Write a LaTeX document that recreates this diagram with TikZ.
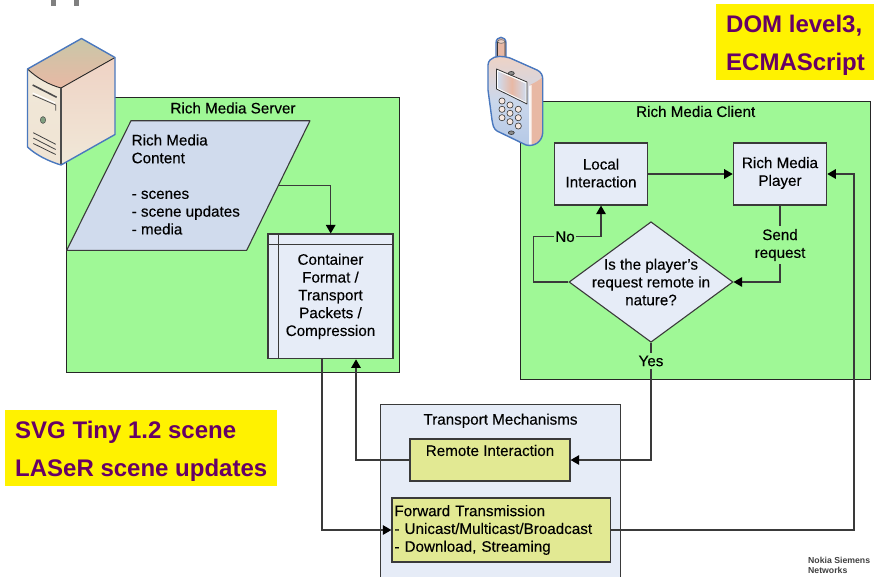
\documentclass[tikz,border=0pt]{standalone}
\usepackage{fontspec}
\setmainfont[FakeBold=0.22]{Liberation Sans}
\newfontfamily\notefont[BoldFont={Liberation Sans Bold}]{Liberation Sans}
\usetikzlibrary{arrows.meta,shapes.geometric}
\definecolor{grn}{HTML}{9FF896}
\definecolor{pale}{HTML}{E6ECF7}
\definecolor{para}{HTML}{D0DBED}
\definecolor{olive}{HTML}{E2E993}
\definecolor{purp}{HTML}{660066}
\definecolor{edge}{HTML}{3A3A3A}
\definecolor{iconblue}{HTML}{4A78BE}
\definecolor{salmon}{HTML}{E8B8A4}
\definecolor{tanc}{HTML}{C9C7A8}
\definecolor{cream}{HTML}{F0E8D8}
\definecolor{blush}{HTML}{EFD2C4}
\definecolor{steel}{HTML}{B4C8E6}
\tikzset{
  every node/.style={font=\fontsize{15.2}{17.8}\selectfont,text=black,inner sep=0pt},
  panel/.style={draw=black!85,line width=0.9pt,rectangle,inner sep=0pt},
  pbox/.style={draw=edge,line width=1.2pt,fill=pale,rectangle,align=center},
  obox/.style={draw=edge,line width=1.2pt,fill=olive,rectangle},
  caption/.style={align=center},
  yellowbox/.style={fill=yellow,rectangle},
  note/.style={font=\notefont\fontsize{24}{38}\selectfont\bfseries,text=purp,align=left},
  wire/.style={draw=edge,line width=1.3pt,-{Triangle[length=8.5pt,width=9.5pt,color=black]}},
  wlabel/.style={fill=grn,align=center,inner xsep=1pt,inner ysep=3pt},
  iconline/.style={draw=iconblue,line width=1.4pt,line join=round},
  key/.style={circle,draw=black!80,line width=0.6pt,fill=blush!50!white,minimum size=6.2pt},
}
\begin{document}
\begin{tikzpicture}[x=1pt,y=-1pt]
\useasboundingbox (0,0) rectangle (874,576);
% title remnants
\fill[black!50] (50.5,0) rectangle (56,6);
\fill[black!50] (73.5,0) rectangle (79,6);
% panels
\node[panel,fill=grn,minimum width=333pt,minimum height=275.5pt] (server) at (232.5,235) {};
\node[panel,fill=grn,minimum width=350pt,minimum height=278pt] (client) at (695.5,240) {};
\node[panel,draw=edge,fill=pale,minimum width=240pt,minimum height=180pt] (transport) at (500,494) {};
% panel titles
\node[caption] (servertitle) at (233,108) {Rich Media Server};
\node[caption] (clienttitle) at (695.7,111.5) {Rich Media Client};
\node[caption] (transporttitle) at (500.5,420.7) {Transport Mechanisms};
% content parallelogram
\coordinate (pa) at (131,120.7);
\coordinate (pb) at (310,120.7);
\coordinate (pc) at (246.7,250.3);
\coordinate (pd) at (66.7,250.3);
\coordinate (pout) at (278,185.7);
\draw[draw=edge,line width=1.1pt,fill=para,line join=round] (pa) -- (pb) -- (pc) -- (pd) -- cycle;
\node[anchor=west,align=left] (content) at (131.5,184.5) {Rich Media\\Content\\[17.8pt]- scenes\\- scene updates\\- media};
% container
\node[pbox,minimum width=125pt,minimum height=124.7pt] (cont) at (330.5,296.4) {Container\\Format /\\Transport\\Packets /\\Compression};
\draw[draw=edge,line width=1.2pt] ([xshift=11pt]cont.north west) -- ([xshift=11pt]cont.south west);
\draw[draw=edge,line width=1.2pt] ([yshift=-11pt]cont.north west) -- ([yshift=-11pt]cont.north east);
% client nodes
\node[pbox,minimum width=93.4pt,minimum height=62pt] (local) at (601,174) {};
\node[align=center] (localtext) at (601,173) {Local\\Interaction};
\node[pbox,minimum width=93.4pt,minimum height=62pt] (player) at (780,174) {};
\node[align=center] (playertext) at (780,173) {Rich Media\\Player};
\node[diamond,draw=edge,line width=1.1pt,fill=pale,aspect=1.36,inner sep=0pt,minimum width=164pt,minimum height=120.5pt] (q) at (651,282) {};
\node[align=center] (qtext) at (651,282) {Is the player’s\\request remote in\\nature?};
% transport nodes
\node[obox,minimum width=160pt,minimum height=42pt] (remote) at (490,460) {};
\node (remotetext) at (490,450.5) {Remote Interaction};
\node[obox,minimum width=218.5pt,minimum height=64pt,text width=213.5pt,inner xsep=2.5pt,align=left] (fwd) at (501.2,530) {Forward Transmission\\- Unicast/Multicast/Broadcast\\- Download, Streaming};
% connectors
\coordinate (a1) at (330.7,185.7);
\draw[wire] (pout) -- (a1) -- (a1 |- cont.north);
\draw[wire] (local) -- (player);
\coordinate (c1) at (322,530);
\draw[wire] (cont.south -| c1) -- (c1) -- (fwd.west);
\coordinate (c2) at (356,460);
\draw[wire] (remote.west) -- (c2) -- (c2 |- cont.south);
\coordinate (d1) at (533.7,282);
\coordinate (d2) at (533.7,236.7);
\coordinate (d3) at (601,236.7);
\draw[wire] (q.west) -- (d1) -- (d2) -- (d3) -- (local.south);
\coordinate (e1) at (780,282);
\draw[wire] (player.south) -- (e1) -- (q.east);
\coordinate (f1) at (651,460);
\draw[wire] (q.south) -- (f1) -- (remote.east);
\coordinate (g1) at (854,530);
\coordinate (g2) at (854,174);
\draw[wire] (fwd.east) -- (g1) -- (g2) -- (player.east);
% connector labels
\node[wlabel] (nolabel) at (565,236.7) {No};
\node[wlabel] (sendlabel) at (780,245) {Send\\request};
\node[wlabel] (yeslabel) at (651,361) {Yes};
% yellow notes
\node[yellowbox,minimum width=272pt,minimum height=75.7pt] (svgbox) at (141,447.8) {};
\node[note,anchor=west] (svgtext) at (15,451) {SVG Tiny 1.2 scene\\LASeR scene updates};
\node[yellowbox,minimum width=158pt,minimum height=76pt] (dombox) at (795,42) {};
\node[note,anchor=west] (domtext) at (726,45) {DOM level3,\\ECMAScript};
% footer
\node[anchor=north west,align=left,font=\notefont\fontsize{8.7}{10.5}\selectfont\bfseries,text=black!75] (nsn) at (808,556.5) {Nokia Siemens\\Networks};
% server icon
\begin{scope}[line join=round]
\shade[top color=cream,bottom color=cream!80!blush] (27.5,69) .. controls (38,79) and (50,85) .. (61,88) -- (61,165) .. controls (48,161) and (36,155) .. (27.5,147) -- cycle;
\shade[top color=blush,bottom color=cream] (61,88) -- (115,57.5) -- (115,134.5) -- (61,165) -- cycle;
\shade[top color=tanc,bottom color=salmon] (27.5,69) -- (81.5,38.5) -- (115,57.5) -- (61,88) .. controls (50,85) and (38,79) .. (27.5,69) -- cycle;
\draw[black!85,line width=0.9pt] (27.5,69) .. controls (38,79) and (50,85) .. (61,88) -- (115,57.5);
\draw[black!70,line width=1.1pt] (61,88) -- (61,165);
\draw[black!70,line width=1.6pt] (32.7,85) -- (56.7,97.3);
\draw[white,line width=1.2pt] (32.7,93) -- (55,103);
\draw[black!70,line width=0.8pt] (32.7,95) -- (55.7,105) -- (55.7,110.7);
\fill[green!25!black!50,draw=black!70,line width=0.5pt] (43,120) ellipse (2.7pt and 3.4pt);
\draw[black!75,line width=0.8pt] (33.3,132.7) -- (55.7,144.3) (33.3,138) -- (55.7,149.5) (33.3,143.5) -- (55.7,154.5);
\draw[iconline] (27.5,69) -- (81.5,38.5) -- (115,57.5) -- (115,134.5) -- (61,165) .. controls (48,161) and (36,155) .. (27.5,147) -- cycle;
\end{scope}
% phone icon
\begin{scope}[line join=round]
\draw[iconline,fill=salmon] (496,60) -- (496,43) .. controls (496,35.5) and (506,35.5) .. (506,43) -- (506,60) -- cycle;
\draw[black!80,line width=0.8pt,fill=salmon] (497.5,62) -- (497.5,41.5) -- (505,41.5) -- (505,62) .. controls (503,63.5) and (499.5,63.5) .. (497.5,62) -- cycle;
\draw[black!60,line width=0.6pt,fill=blush] (501.2,41.5) ellipse (3.7pt and 1.8pt);
\shade[top color=blush,bottom color=steel,middle color=para!80!steel] (490,60) .. controls (495,55) and (503,56) .. (510,58) -- (537,70) .. controls (541,72) and (542.7,75) .. (542.7,79) -- (542.7,133) .. controls (542,142) and (534,147) .. (526,145) -- (497,131) .. controls (493,128) and (493,125) .. (492,120) -- (488,90) -- (488,65) .. controls (488,63) and (489,61) .. (490,60) -- cycle;
\fill[salmon] (530,85) .. controls (534,83) and (540,80) .. (542.7,77) -- (542.7,133) .. controls (542,140) and (536,144) .. (530,145) -- cycle;
\fill[white,opacity=0.85] (529,86) -- (531.5,85) -- (531.5,145) -- (529,145) -- cycle;
\draw[iconline,fill=none] (490,60) .. controls (495,55) and (503,56) .. (510,58) -- (537,70) .. controls (541,72) and (542.7,75) .. (542.7,79) -- (542.7,133) .. controls (542,142) and (534,147) .. (526,145) -- (497,131) .. controls (493,128) and (493,125) .. (492,120) -- (488,90) -- (488,65) .. controls (488,63) and (489,61) .. (490,60) -- cycle;
\draw[black!80,line width=0.8pt,fill=white] (496.5,69) -- (527,82) -- (527,104) -- (496.5,89) -- cycle;
\shade[left color=para,right color=para,middle color=salmon] (498,71.5) -- (525.5,83.5) -- (525.5,101.5) -- (498,88) -- cycle;
\draw[black!80,line width=0.6pt,fill=black!45] (511.3,73.3) ellipse (3pt and 1.8pt);
\draw[black!80,line width=0.6pt,fill=black!45] (511.3,132.7) ellipse (3pt and 1.8pt);
\foreach \kx/\ky in {502/101,510/105,518.3/109.3,502/109.3,510/113.3,518.3/117.7,502/117.7,510/121.7,518.3/126}
  \node[key] at (\kx,\ky) {};
\end{scope}
\end{tikzpicture}
\end{document}
